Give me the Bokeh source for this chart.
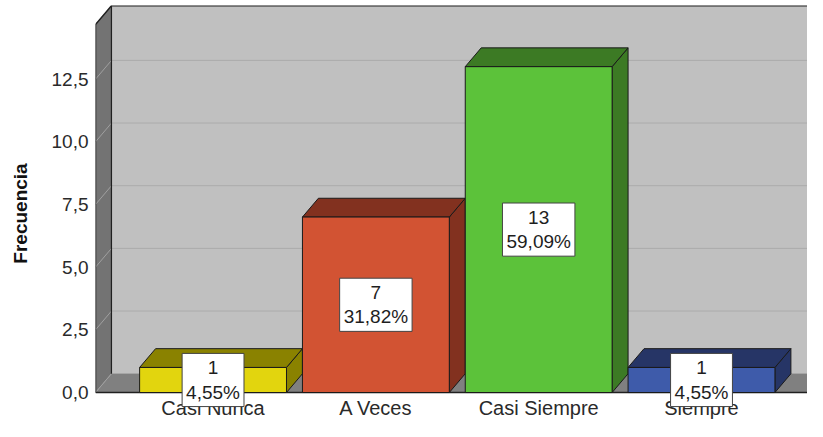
from bokeh.plotting import figure
from bokeh.models import Range1d, FixedTicker, Label
from bokeh.core.properties import value
from bokeh.embed import file_html
from bokeh.resources import INLINE

# ---- data ----
categories = ["Casi Nunca", "A Veces", "Casi Siempre", "Siempre"]
counts = [1, 7, 13, 1]
percents = ["4,55%", "31,82%", "59,09%", "4,55%"]
front_colors = ["#E2D50E", "#D25333", "#5CC23A", "#3E5BAA"]
shade_colors = ["#8A8200", "#82311F", "#3C7A24", "#263566"]
y_ticks = [0, 2.5, 5, 7.5, 10, 12.5]
y_tick_labels = ["0,0", "2,5", "5,0", "7,5", "10,0", "12,5"]

# ---- 3D geometry (data units) ----
DX = 0.098      # depth offset in x
DY = 0.75       # depth offset in y
X0 = 0.278      # left wall front
X1 = 4.722      # right wall front
TOP = 14.68     # front top of the box
HALF = 0.451    # half bar width
LABEL_Y = -0.62 # category label row (below the floor)
FONT = "Liberation Sans"
xs = list(range(1, len(categories) + 1))

p = figure(width=807, height=421, output_backend="svg", toolbar_location=None,
           x_range=Range1d(X0, 4.651), y_range=Range1d(-1.156, TOP + DY + 0.01),
           min_border_left=95, min_border_right=0, min_border_top=5,
           min_border_bottom=0, outline_line_color=None,
           background_fill_color="white", border_fill_color="white")
p.grid.visible = False
p.xaxis.visible = False

# back wall
p.quad(left=[X0 + DX], right=[X1 + DX], bottom=[DY], top=[TOP + DY],
       fill_color="#C0C0C0", line_color=None)
# back wall gridlines
n = len(y_ticks)
p.segment(x0=[X0 + DX] * n, y0=[t + DY for t in y_ticks],
          x1=[X1 + DX] * n, y1=[t + DY for t in y_ticks],
          line_color="#ABABAB", line_width=1)
# floor
p.patch([X0, X0 + DX, X1 + DX, X1], [0, DY, DY, 0],
        fill_color="#808080", line_color=None)
# left wall
p.patch([X0, X0, X0 + DX, X0 + DX], [0, TOP, TOP + DY, DY],
        fill_color="#737373", line_color=None)
# left wall gridline diagonals
p.segment(x0=[X0] * n, y0=y_ticks, x1=[X0 + DX] * n,
          y1=[t + DY for t in y_ticks], line_color="#A0A0A0", line_width=1)
# outlines of the box
p.line([X0 + DX, X0 + DX], [DY, TOP + DY], line_color="#202020", line_width=1.2)
p.line([X0, X0, X0 + DX, X1 + DX], [0, TOP, TOP + DY, TOP + DY],
       line_color="#202020", line_width=1.5)
p.line([X0, X1], [0, 0], line_color="#202020", line_width=1.5)

# bars
lefts = [x - HALF for x in xs]
rights = [x + HALF for x in xs]
p.patches([[r, r + DX, r + DX, r] for r in rights],
          [[0, DY, v + DY, v] for v in counts],
          fill_color=shade_colors, line_color="#1A1A1A", line_width=1)
p.patches([[l, l + DX, r + DX, r] for l, r in zip(lefts, rights)],
          [[v, v + DY, v + DY, v] for v in counts],
          fill_color=shade_colors, line_color="#1A1A1A", line_width=1)
p.quad(left=lefts, right=rights, bottom=[0] * len(xs), top=counts,
       fill_color=front_colors, line_color="#1A1A1A", line_width=1)

# category labels
p.text(x=xs, y=[LABEL_Y] * len(xs), text=categories,
       text_align="center", text_baseline="middle",
       text_font=value(FONT), text_font_size="20px", text_color="#2A2A2A")

# value labels
for x, c, pct in zip(xs, counts, percents):
    p.add_layout(Label(x=x, y=c / 2, text=f"{c}\n{pct}",
                       text_align="center", text_baseline="middle",
                       text_font=FONT, text_font_size="19px",
                       text_color="#1E1E1E", text_line_height=1.15,
                       background_fill_color="white",
                       border_line_color="#444444", border_line_width=1,
                       padding=4))

# y axis
p.yaxis.ticker = FixedTicker(ticks=y_ticks)
p.yaxis.major_label_overrides = dict(zip(y_ticks, y_tick_labels))
p.yaxis.axis_line_color = None
p.yaxis.major_tick_line_color = None
p.yaxis.minor_tick_line_color = None
p.yaxis.major_tick_out = 0
p.yaxis.major_tick_in = 0
p.yaxis.major_label_standoff = 7
p.yaxis.major_label_text_font = FONT
p.yaxis.major_label_text_font_size = "19px"
p.yaxis.major_label_text_color = "#2A2A2A"
p.yaxis.axis_label = "Frecuencia"
p.yaxis.axis_label_text_font = FONT
p.yaxis.axis_label_text_font_style = "bold"
p.yaxis.axis_label_text_font_size = "19px"
p.yaxis.axis_label_text_color = "#111111"
p.yaxis.axis_label_standoff = 18

open("out.html", "w").write(file_html(p, INLINE))
